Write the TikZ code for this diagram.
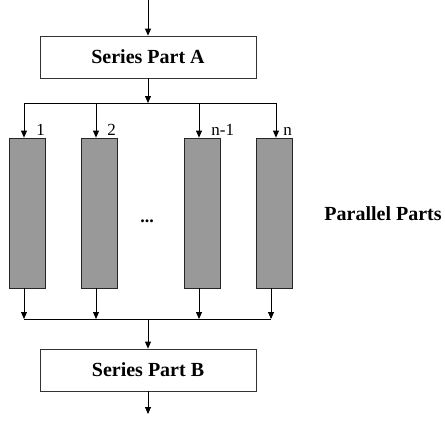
\documentclass[tikz,border=0pt]{standalone}
\usepackage{fontspec}
\setmainfont{Liberation Serif}
\usetikzlibrary{arrows.meta}

\begin{document}
\begin{tikzpicture}[x=1pt,y=-1pt,
    every path/.style={line width=0.8pt},
    flow/.style={-{Triangle[width=6pt,length=7pt]}},
    seriesbox/.style={draw=black!80,minimum width=216pt,minimum height=42pt,
        inner sep=0pt,font=\fontsize{20}{24}\selectfont\bfseries},
    partbox/.style={draw=black!85,fill=black!40,minimum width=36pt,minimum height=150pt,inner sep=0pt},
    branch/.style={font=\fontsize{17}{20}\selectfont,anchor=base west,inner sep=0pt}]
    \useasboundingbox (0,0) rectangle (445,423);

    % series stages
    \node[seriesbox] (A) at (148,57) {Series Part A};
    \node[seriesbox] (B) at (148,370) {Series Part B};
    \coordinate (in) at (148,0);
    \coordinate (out) at (148,414);
    \coordinate (split) at (148,103);
    \coordinate (join) at (148,319);

    % parallel stages
    \node[partbox] (p1) at (27,213) {};
    \node[partbox] (p2) at (99,213) {};
    \node[partbox] (p3) at (202,213) {};
    \node[partbox] (p4) at (274,213) {};
    \node[font=\fontsize{18}{20}\selectfont\bfseries,anchor=base,inner sep=0pt] (dots) at (147,222) {...};
    \node[font=\fontsize{20}{24}\selectfont\bfseries] (par) at (383,214) {Parallel Parts};

    \draw[flow] (in) -- (A);
    \draw[flow] (A) -- (split);
    \draw[flow] (B) -- (out);
    \draw[flow] (join) -- (B);

    % fan out to the branches
    \foreach \i/\x/\lab/\dx in {1/24/1/12,2/96/2/11,3/199/n-1/12,4/276/n/7} {
        \coordinate (s\i) at (\x,103);
        \draw[flow] (s\i) -- (s\i |- p\i.north);
        \node[branch] (l\i) at (\x+\dx,135) {\lab};
    }
    \draw (s1) -- (s4);

    % collect the branches
    \foreach \i/\x in {1/24,2/96,3/199,4/271} {
        \coordinate (j\i) at (\x,319);
        \draw[flow] (j\i |- p\i.south) -- (j\i);
    }
    \draw (j1) -- (j4);
\end{tikzpicture}
\end{document}
